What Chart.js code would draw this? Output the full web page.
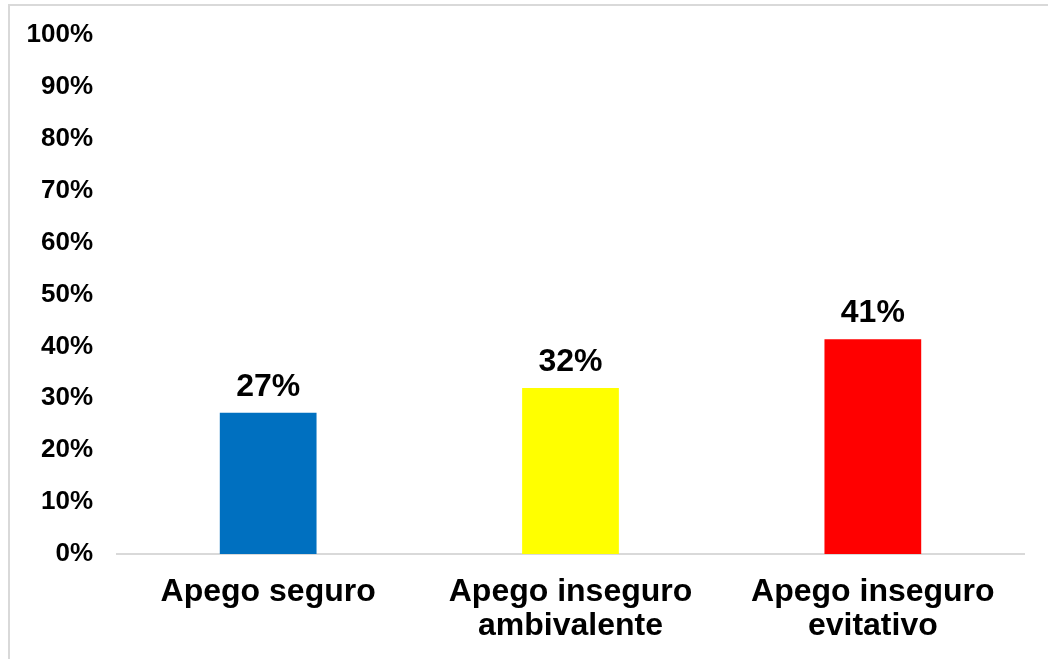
<!DOCTYPE html>
<html>
<head>
<meta charset="utf-8">
<script src="https://cdn.jsdelivr.net/npm/chart.js@4"></script>
<style>
  html, body { margin: 0; padding: 0; background: #fff; overflow: hidden; }
  #frame { position: absolute; left: 8px; top: 4px; width: 1042px; height: 700px; border: 2px solid #d9d9d9; box-sizing: border-box; }
  #wrap { position: absolute; left: 0; top: 0; width: 1038px; height: 653px; }
</style>
</head>
<body>
<div id="frame"><div id="wrap"><canvas id="chart"></canvas></div></div>
<script>
const categories = [['Apego seguro'], ['Apego inseguro', 'ambivalente'], ['Apego inseguro', 'evitativo']];
const values = [27.2, 32, 41.4];
const barColors = ['#0070C0', '#FFFF00', '#FF0000'];

const FONT = "'Liberation Sans', Arial, sans-serif";

// labels above bars
const valueLabels = {
    id: 'valueLabels',
    afterDatasetsDraw(chart) {
        const ctx = chart.ctx;
        const meta = chart.getDatasetMeta(0);
        ctx.save();
        ctx.font = 'bold 32px ' + FONT;
        ctx.fillStyle = '#000';
        ctx.textAlign = 'center';
        ctx.textBaseline = 'alphabetic';
        meta.data.forEach((bar, i) => {
            ctx.fillText(Math.round(values[i]) + '%', bar.x, bar.y - 17);
        });
        ctx.restore();
    }
};

new Chart(document.getElementById('chart'), {
    type: 'bar',
    data: {
        labels: categories,
        datasets: [{ data: values, backgroundColor: barColors, categoryPercentage: 1, barPercentage: 0.32 }]
    },
    options: {
        responsive: true,
        maintainAspectRatio: false,
        animation: false,
        layout: { padding: { top: 29, right: 24, bottom: 0, left: 0 } },
        plugins: { legend: { display: false }, tooltip: { enabled: false } },
        scales: {
            x: {
                grid: { display: false, drawTicks: false },
                border: { color: '#d9d9d9', width: 2 },
                ticks: { color: '#000', padding: 21, maxRotation: 0, font: { family: FONT, size: 32, weight: 'bold', lineHeight: 1.06 } },
                afterFit(scale) { scale.height = 105; }
            },
            y: {
                min: 0, max: 100,
                grid: { display: false, drawTicks: false },
                border: { display: false },
                // small lineHeight keeps the top label from pushing the plot down
                ticks: { stepSize: 10, color: '#000', padding: 24, font: { family: FONT, size: 26, weight: 'bold', lineHeight: 0.1 }, callback: v => v + '%' },
                afterFit(scale) { scale.width = 107; }
            }
        }
    },
    plugins: [valueLabels]
});
</script>
</body>
</html>
